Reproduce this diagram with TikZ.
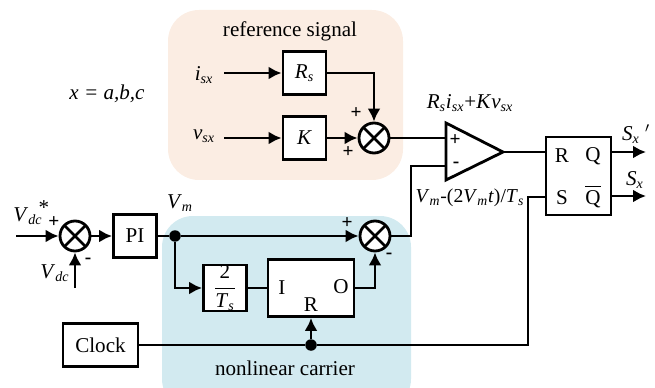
\documentclass[tikz,border=0pt]{standalone}
\usepackage{fontspec}
\setmainfont{Liberation Serif}
\usepackage{tikz}
\usetikzlibrary{calc,arrows.meta}
\definecolor{myorange}{RGB}{251,237,227}
\definecolor{myblue}{RGB}{210,234,240}
\newcommand{\sig}[2]{\mbox{\textit{#1}\textsubscript{\textit{#2}}}}
\tikzset{
  wire/.style = {line width=1.45pt},
  flow/.style = {wire, -{Latex[length=2.6mm,width=2.6mm]}},
  blockbox/.style = {draw, fill=white, line width=1.6pt, inner sep=0pt, minimum width=.86cm, minimum height=.86cm, font=\fontsize{12}{14}\selectfont},
  sumnode/.style = {draw, circle, fill=white, line width=1.6pt, inner sep=0pt, minimum size=.6cm,
    path picture={\draw[line width=1.6pt] (path picture bounding box.north west) -- (path picture bounding box.south east)
      (path picture bounding box.north east) -- (path picture bounding box.south west);}},
  dotnode/.style = {circle, fill=black, inner sep=0pt, minimum size=.23cm},
  sigtext/.style = {inner sep=0pt, font=\fontsize{12}{14}\selectfont},
  signtext/.style = {inner sep=0pt, font=\fontsize{11}{12}\bfseries\selectfont}
}

\begin{document}
\begin{tikzpicture}[x=.02cm, y=-.02cm]
    \useasboundingbox (0,0) rectangle (655,388);

    \begin{scope}
      \clip (0,0) rectangle (655,388);
      \fill[myorange, rounded corners=.62cm] (168,10) rectangle (403,180);
      \fill[myblue, rounded corners=.62cm] (162,216) rectangle (411,410);
    \end{scope}

    % top branch
    \node[blockbox] (rs) at (304.5,73) {\sig{R}{s}};
    \node[blockbox] (gain) at (304.5,138) {\textit{K}};
    \node[sumnode] (sumref) at (374,138) {};
    \coordinate (isx) at (224,73);
    \coordinate (vsx) at (224,138);
    \node[sigtext] (isxlabel) at (204,75) {\sig{i}{sx}};
    \node[sigtext] (vsxlabel) at (204,136) {\sig{v}{sx}};
    \node[sigtext] (reftext) at (290,31) {reference signal};
    \node[sigtext] (phase) at (107,94) {\textit{x = a,b,c}};
    \node[signtext] (refplusa) at (356,113) {+};
    \node[signtext] (refplusb) at (348,152) {+};

    % comparator
    \coordinate (cmptop) at (446,123);
    \coordinate (cmpbot) at (446,180);
    \coordinate (cmptip) at (503,152);
    \coordinate (cmpplus) at (446,138);
    \coordinate (cmpminus) at (446,166);
    \coordinate (bendref) at (411,166);
    \draw[line width=1.6pt] (cmptop) -- (cmptip) -- (cmpbot) -- cycle;
    \node[signtext] (cmpplustext) at (455,140) {+};
    \node[signtext] (cmpminustext) at (456,165) {-};
    \node[sigtext] (reflabel) at (470,103) {\sig{R}{s}\sig{i}{sx}+\textit{K}\sig{v}{sx}};
    \node[inner sep=0pt, font=\fontsize{11.2}{13}\selectfont] (carlabel) at (470,198) {\sig{V}{m}-(2\sig{V}{m}\textit{t})/\sig{T}{s}};

    % flip flop
    \node[draw, fill=white, line width=1.6pt, minimum width=1.3cm, minimum height=1.56cm, inner sep=0pt] (latch) at (578.5,176) {};
    \node[sigtext] (latchr) at (562,156) {R};
    \node[sigtext] (latchq) at (593,156) {Q};
    \node[sigtext] (latchs) at (562,198) {S};
    \node[sigtext, anchor=base] (latchqb) at (593,204) {\makebox[0pt][l]{\rule[9.5pt]{8.7pt}{1pt}}Q};
    \coordinate (inr) at (546,152);
    \coordinate (ins) at (546,197);
    \coordinate (outq) at (611,152);
    \coordinate (outqb) at (611,196);
    \coordinate (endq) at (646,152);
    \coordinate (endqb) at (646,196);
    \coordinate (bendsa) at (528,197);
    \coordinate (bendsb) at (528,345);
    \node[sigtext] (sxa) at (636,134) {\sig{S}{x}\hspace{3pt}$'$};
    \node[sigtext] (sxb) at (635,180) {\sig{S}{x}};

    % bottom branch
    \coordinate (vdcref) at (16,236);
    \coordinate (vdcin) at (75,288);
    \node[sumnode] (sumdc) at (75,236) {};
    \node[blockbox] (pi) at (135,236) {PI};
    \node[dotnode] (vmdot) at (175,236) {};
    \node[sumnode] (sumcar) at (375,236) {};
    \node[blockbox] (twots) at (225,288) {$\displaystyle\frac{\mbox{2}}{\sig{T}{s}}$};
    \node[draw, fill=white, line width=1.6pt, minimum width=1.72cm, minimum height=1.14cm, inner sep=0pt] (intg) at (311,288) {};
    \node[sigtext] (intgi) at (282,288) {I};
    \node[sigtext] (intgr) at (311,305) {R};
    \node[sigtext] (intgo) at (341,287) {O};
    \node[draw, fill=white, line width=1.6pt, minimum width=1.5cm, minimum height=.86cm, inner sep=0pt, font=\fontsize{12}{14}\selectfont] (clock) at (100.5,345) {Clock};
    \node[dotnode] (clkdot) at (311,345) {};
    \node[sigtext] (vdcstar) at (28,216) {\sig{V}{dc}};
    \node[sigtext] (star) at (44,208) {*};
    \node[sigtext] (vdclabel) at (55,273) {\sig{V}{dc}};
    \node[sigtext] (vmlabel) at (180,203) {\sig{V}{m}};
    \node[signtext] (dcplus) at (54,222) {+};
    \node[signtext] (dcminus) at (88,261) {-};
    \node[signtext] (carplus) at (347,223) {+};
    \node[signtext] (carminus) at (389,256) {-};
    \node[sigtext] (cartext) at (285,368) {nonlinear carrier};

    \draw[flow] (isx) -- (rs);
    \draw[flow] (vsx) -- (gain);
    \draw[flow] (gain) -- (sumref);
    \draw[flow] (rs) -| (sumref);
    \draw[wire] (sumref) -- (cmpplus);
    \draw[wire] (sumcar) -| (bendref) -- (cmpminus);
    \draw[wire] (cmptip) -- (inr);
    \draw[flow] (outq) -- (endq);
    \draw[flow] (outqb) -- (endqb);
    \draw[flow] (vdcref) -- (sumdc);
    \draw[flow] (vdcin) -- (sumdc);
    \draw[flow] (sumdc) -- (pi);
    \draw[wire] (pi) -- (vmdot);
    \draw[flow] (vmdot) -- (sumcar);
    \draw[flow] (vmdot) |- (twots);
    \draw[wire] (twots) -- (intg);
    \draw[flow] (intg) -| (sumcar);
    \draw[wire] (clock) -- (clkdot);
    \draw[flow] (clkdot) -- (intg);
    \draw[wire] (clkdot) -- (bendsb) -- (bendsa) -- (ins);
  \end{tikzpicture}
\end{document}
